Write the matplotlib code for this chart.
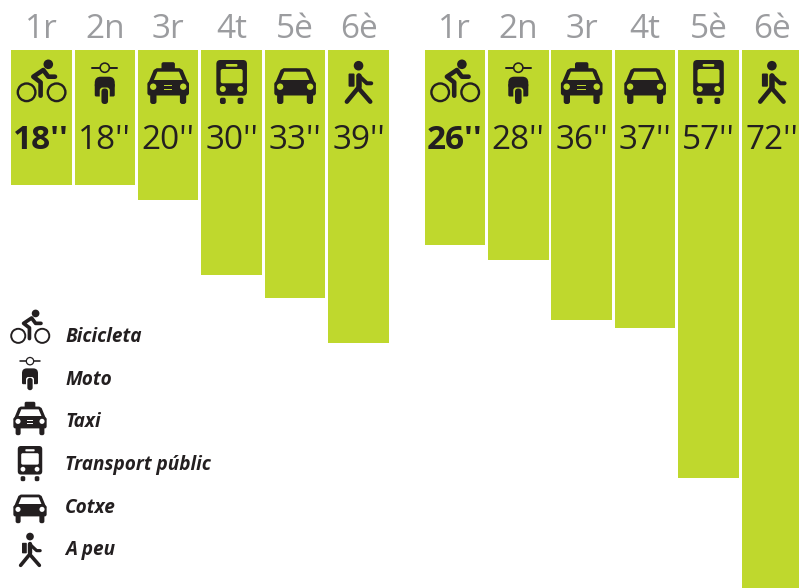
import matplotlib
matplotlib.use("Agg")
import matplotlib.pyplot as plt
from matplotlib.patches import Circle, FancyBboxPatch, Polygon, Rectangle

ranks = ["1r", "2n", "3r", "4t", "5è", "6è"]
left_values = [18, 18, 20, 30, 33, 39]
left_icons = ["bike", "moto", "taxi", "bus", "car", "walk"]
right_values = [26, 28, 36, 37, 57, 72]
right_icons = ["bike", "moto", "taxi", "car", "bus", "walk"]
legend_icons = ["bike", "moto", "taxi", "bus", "car", "walk"]
legend_names = ["Bicicleta", "Moto", "Taxi", "Transport públic", "Cotxe", "A peu"]

GREEN = "#bfd82d"
BLACK = "#231f20"
GREY = "#9b9c9f"
W, H = 799, 588
PX_PER_UNIT = 7.5
TOP = 50


def rbox(ax, x0, y0, x1, y1, r, fc):
    ax.add_patch(FancyBboxPatch((x0 + r, y0 + r), x1 - x0 - 2 * r, y1 - y0 - 2 * r,
                                boxstyle=f"round,pad={r},rounding_size={r}", fc=fc, ec="none"))


def stroke(ax, pts, width, s):
    ax.plot(*zip(*pts), color=BLACK, lw=width * s * 0.72, solid_capstyle="round", solid_joinstyle="round")


def vehicle(ax, x, y, s, bg, taxi):
    def P(a, b):
        return (x + a * s, y + b * s)
    if taxi:
        rbox(ax, *P(-6.7, -20.3), *P(6.7, -12), 2 * s, BLACK)
    ax.add_patch(Polygon([P(-20.5, 2), P(-14.5, -12.5), P(-11.5, -14.3), P(11.5, -14.3), P(14.5, -12.5), P(20.5, 2)],
                         fc=BLACK, ec="none"))
    ax.add_patch(Polygon([P(-14.3, -2.5), P(-10.8, -10.8), P(10.8, -10.8), P(14.3, -2.5)], fc=bg, ec="none"))
    rbox(ax, *P(-20.8, -1), *P(20.8, 13), 2.5 * s, BLACK)
    rbox(ax, *P(-18, 8), *P(-11.7, 21.5), 2.5 * s, BLACK)
    rbox(ax, *P(11.7, 8), *P(18, 21.5), 2.5 * s, BLACK)
    for a in (-15, 15):
        ax.add_patch(Circle(P(a, 4.2), 3.2 * s, fc=bg, ec="none"))
    if taxi:
        for b in (3.2, 6.8):
            ax.add_patch(Rectangle(P(-4.3, b - 0.6), 8.6 * s, 1.2 * s, fc=bg, ec="none"))


def bus(ax, x, y, s, bg):
    def P(a, b):
        return (x + a * s, y + b * s)
    rbox(ax, *P(-15.3, -22.5), *P(15.3, 13.2), 4 * s, BLACK)
    rbox(ax, *P(-11, -13.5), *P(11, 0.8), 2 * s, bg)
    rbox(ax, *P(-5.8, -18.5), *P(5.8, -15.8), 1 * s, bg)
    for a in (-8.8, 8.8):
        ax.add_patch(Circle(P(a, 6.5), 3 * s, fc=bg, ec="none"))
        rbox(ax, *P(a - 2.9, 15.2), *P(a + 2.9, 21.5), 2 * s, BLACK)


def moto(ax, x, y, s, bg):
    def P(a, b):
        return (x + a * s, y + b * s)
    stroke(ax, [P(-12.5, -14.8), P(12.5, -14.8)], 2, s)
    ax.add_patch(Circle(P(0, -14.8), 4.6 * s, fc=bg, ec=BLACK, lw=1.6 * s * 0.72, zorder=3))
    rbox(ax, *P(-10, -5.8), *P(10, 8), 6 * s, BLACK)
    rbox(ax, *P(-10, 1), *P(10, 14), 1.5 * s, BLACK)
    rbox(ax, *P(-5, 5), *P(5, 20), 3 * s, bg)
    rbox(ax, *P(-3.3, 6), *P(3.3, 21.5), 3.2 * s, BLACK)


def bike(ax, x, y, s, bg):
    def P(a, b):
        return (x + a * s, y + b * s)
    for a in (-14.7, 15.3):
        ax.add_patch(Circle(P(a, 9.8), 8.8 * s, fc="none", ec=BLACK, lw=2.4 * s * 0.72))
    stroke(ax, [P(-0.7, 13.2), P(-0.7, -0.2), P(-8, -5.8), P(2, -12.5), P(7, -5.8), P(13.7, -5.8)], 4.6, s)
    ax.add_patch(Circle(P(7, -18.2), 4.8 * s, fc=BLACK, ec="none"))


def walk(ax, x, y, s, bg):
    def P(a, b):
        return (x + a * s, y + b * s)
    ax.add_patch(Circle(P(0, -16.8), 4.8 * s, fc=BLACK, ec="none"))
    rbox(ax, *P(-10, -9), *P(-4, 4.2), 1 * s, BLACK)
    stroke(ax, [P(0, -7), P(0, 4)], 5.5, s)
    stroke(ax, [P(0, -7), P(8.3, 0.8), P(12.7, 0.8)], 4, s)
    stroke(ax, [P(-0.7, 5.8), P(-11.7, 19.2)], 4.5, s)
    stroke(ax, [P(0, 5.8), P(11.7, 19.2)], 4.5, s)


def draw_icon(ax, name, x, y, s, bg):
    if name == "bike":
        bike(ax, x, y, s, bg)
    elif name == "moto":
        moto(ax, x, y, s, bg)
    elif name == "taxi":
        vehicle(ax, x, y, s, bg, True)
    elif name == "car":
        vehicle(ax, x, y, s, bg, False)
    elif name == "bus":
        bus(ax, x, y, s, bg)
    else:
        walk(ax, x, y, s, bg)


plt.rcParams["font.family"] = ["Open Sans", "DejaVu Sans"]
fig = plt.figure(figsize=(W / 100, H / 100), dpi=100)
fig.patch.set_facecolor("white")


def panel(x0, pitch, values):
    # x0 is the centre of the first bar in pixels, every column is one x unit wide
    left = x0 - pitch / 2
    ax = fig.add_axes([left / W, 0, 6 * pitch / W, (H - TOP) / H])
    ax.bar(range(6), values, width=60.5 / pitch, color=GREEN)
    ax.set_xlim(-0.5, 5.5)
    ax.set_ylim((H - TOP) / PX_PER_UNIT, 0)
    ax.axis("off")
    for i, (rank, v) in enumerate(zip(ranks, values)):
        ax.text(i, (38 - TOP) / PX_PER_UNIT, rank, color=GREY, fontsize=24, ha="center",
                va="baseline", clip_on=False)
        ax.text(i, (149 - TOP) / PX_PER_UNIT, f"{v}''", color=BLACK, fontsize=24, ha="center",
                va="baseline", fontweight="bold" if i == 0 else "normal")
    return ax


panel(41.3, 63.45, left_values)
panel(454.9, 63.4, right_values)

# icons sit on a pixel-sized layer above both panels
over = fig.add_axes([0, 0, 1, 1], facecolor="none")
over.set_xlim(0, W)
over.set_ylim(H, 0)
over.axis("off")

for x0, pitch, icons in ((41.3, 63.45, left_icons), (454.9, 63.4, right_icons)):
    for i, name in enumerate(icons):
        draw_icon(over, name, x0 + i * pitch, 82.5, 1, GREEN)

legend_y = [328, 373, 418, 464, 506, 550]
label_y = [342, 385, 427, 470, 513, 555]
for name, text, yi, yt in zip(legend_icons, legend_names, legend_y, label_y):
    draw_icon(over, name, 30, yi, 0.8, "white")
    over.text(65, yt, text, color=BLACK, fontsize=13.7, fontweight="bold", fontstyle="italic",
              ha="left", va="baseline")

fig.savefig("out.png", dpi=100)
